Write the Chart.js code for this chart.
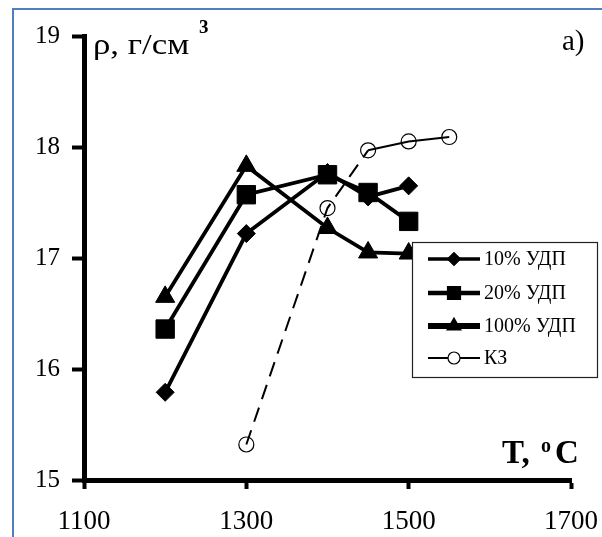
<!DOCTYPE html>
<html>
<head>
<meta charset="utf-8">
<script src="https://cdn.jsdelivr.net/npm/chart.js@4/dist/chart.umd.min.js"></script>
<style>
  html, body { margin: 0; padding: 0; background: #ffffff; }
  canvas { display: block; }
</style>
</head>
<body>
<canvas id="c" width="602" height="537"></canvas>
<script>
// ---- data ----
const temps = [1200, 1300, 1400, 1450, 1500];          // T, °C for the УДП series
const rho10 = [15.79, 17.22, 17.77, 17.55, 17.65];     // 10% УДП
const rho20 = [16.36, 17.57, 17.75, 17.59, 17.33];     // 20% УДП
const rho100 = [16.65, 17.83, 17.27, 17.05, 17.04];    // 100% УДП
const tempsKZ = [1300, 1400, 1450, 1500, 1550];        // T, °C for КЗ
const rhoKZ = [15.32, 17.45, 17.97, 18.05, 18.09];     // КЗ
const xTicks = [1100, 1300, 1500, 1700];
const yTicks = [15, 16, 17, 18, 19];
const seriesLabels = ['10% УДП', '20% УДП', '100% УДП', 'КЗ'];

const SERIF = '"Liberation Serif", "DejaVu Serif", serif';

function pts(xs, ys) { return xs.map((x, i) => ({ x: x, y: ys[i] })); }

function drawMarker(ctx, style, r, x, y, fill) {
  ctx.save();
  ctx.beginPath();
  if (style === 'rectRot') {
    ctx.moveTo(x - r, y); ctx.lineTo(x, y - r); ctx.lineTo(x + r, y); ctx.lineTo(x, y + r); ctx.closePath();
  } else if (style === 'rect') {
    ctx.rect(x - r, y - r, 2 * r, 2 * r);
  } else if (style === 'triangle') {
    ctx.moveTo(x, y - r);
    ctx.lineTo(x + r * 0.866, y + r * 0.5);
    ctx.lineTo(x - r * 0.866, y + r * 0.5);
    ctx.closePath();
  } else {
    ctx.arc(x, y, r, 0, Math.PI * 2);
  }
  ctx.fillStyle = fill;
  ctx.fill();
  ctx.lineWidth = 1.2;
  ctx.strokeStyle = '#000';
  ctx.stroke();
  ctx.restore();
}

const decorPlugin = {
  id: 'decor',
  beforeDraw(chart) {
    const ctx = chart.ctx;
    ctx.save();
    ctx.fillStyle = '#fff';
    ctx.fillRect(0, 0, chart.width, chart.height);
    ctx.strokeStyle = '#4f7fbd';
    ctx.lineWidth = 2;
    ctx.beginPath();
    ctx.moveTo(13, 537); ctx.lineTo(13, 9); ctx.lineTo(602, 9);
    ctx.stroke();
    ctx.restore();
  },
  afterDraw(chart) {
    const ctx = chart.ctx;
    ctx.save();
    ctx.fillStyle = '#000';
    ctx.textBaseline = 'alphabetic';
    ctx.textAlign = 'left';
    // y-axis title (glyphs in the reference are horizontally wider)
    ctx.save();
    ctx.translate(93, 54);
    ctx.scale(1.2, 1);
    ctx.font = '29px ' + SERIF;
    ctx.fillText('ρ, г/см', 0, 0);
    ctx.restore();
    ctx.font = 'bold 19px ' + SERIF;
    ctx.fillText('3', 199, 33);
    // panel label
    ctx.font = '29px ' + SERIF;
    ctx.fillText('a)', 562, 50);
    // x-axis title
    ctx.font = 'bold 33px ' + SERIF;
    ctx.fillText('T,', 502, 463);
    ctx.font = 'bold 20px ' + SERIF;
    ctx.fillText('o', 541, 452);
    ctx.font = 'bold 33px ' + SERIF;
    ctx.fillText('C', 555, 463);

    // legend
    const L = 412, T = 242, R = 597, B = 377;
    ctx.fillStyle = '#fff';
    ctx.fillRect(L, T, R - L, B - T);
    ctx.strokeStyle = '#222';
    ctx.lineWidth = 1.2;
    ctx.strokeRect(L + 0.5, T + 0.5, R - L, B - T);
    const rows = [259, 293, 326, 358];
    const legendW = [3.5, 4.5, 6, 2];
    const mk = [['rectRot', 6.5, '#000'], ['rect', 6.5, '#000'], ['triangle', 8, '#000'], ['circle', 6, '#fff']];
    chart.data.datasets.forEach((ds, i) => {
      const y = rows[i];
      ctx.strokeStyle = '#000';
      ctx.lineWidth = legendW[i];
      ctx.setLineDash([]);
      ctx.beginPath();
      ctx.moveTo(428, y); ctx.lineTo(480, y);
      ctx.stroke();
      drawMarker(ctx, mk[i][0], mk[i][1], 454, y, mk[i][2]);
      ctx.fillStyle = '#000';
      ctx.font = '20px ' + SERIF;
      ctx.textBaseline = 'middle';
      ctx.textAlign = 'left';
      ctx.fillText(ds.label, 484, y + 1);
    });
    ctx.restore();
  }
};

new Chart(document.getElementById('c'), {
  type: 'scatter',
  data: {
    datasets: [
      {
        label: seriesLabels[0], data: pts(temps, rho10), showLine: true,
        borderColor: '#000', borderWidth: 3.8, pointStyle: 'rectRot', pointRadius: 9,
        pointBackgroundColor: '#000', pointBorderColor: '#000', pointBorderWidth: 1
      },
      {
        label: seriesLabels[1], data: pts(temps, rho20), showLine: true,
        borderColor: '#000', borderWidth: 3.8, pointStyle: 'rect', pointRadius: 13,
        pointBackgroundColor: '#000', pointBorderColor: '#000', pointBorderWidth: 1
      },
      {
        label: seriesLabels[2], data: pts(temps, rho100), showLine: true,
        borderColor: '#000', borderWidth: 3.8, pointStyle: 'triangle', pointRadius: 11,
        pointBackgroundColor: '#000', pointBorderColor: '#000', pointBorderWidth: 1
      },
      {
        label: seriesLabels[3], data: pts(tempsKZ, rhoKZ), showLine: true,
        borderColor: '#000', borderWidth: 2, pointStyle: 'circle', pointRadius: 7.5,
        pointBackgroundColor: 'rgba(255,255,255,0)', pointBorderColor: '#000', pointBorderWidth: 1.2,
        segment: { borderDash: c => (c.p0.parsed.x < 1450 ? [15, 9] : []) }
      }
    ]
  },
  options: {
    responsive: false,
    devicePixelRatio: 1,
    animation: false,
    layout: { padding: { left: 0, top: 36, right: 31, bottom: 0 } },
    plugins: { legend: { display: false }, tooltip: { enabled: false } },
    scales: {
      x: {
        type: 'linear', min: 1100, max: 1700,
        afterFit: s => { s.height = 57; s.paddingLeft = 0; s.paddingRight = 0; },
        afterBuildTicks: s => { s.ticks = xTicks.map(v => ({ value: v })); },
        grid: { drawOnChartArea: false, drawTicks: true, tickLength: 9, tickWidth: 4, tickColor: '#000' },
        border: { display: true, width: 5, color: '#000' },
        ticks: { color: '#000', font: { family: SERIF, size: 27 }, padding: 17, maxRotation: 0,
                 callback: v => String(v) }
      },
      y: {
        type: 'linear', min: 15, max: 19,
        afterFit: s => { s.width = 84; s.paddingTop = 0; s.paddingBottom = 0; },
        afterBuildTicks: s => { s.ticks = yTicks.map(v => ({ value: v })); },
        grid: { drawOnChartArea: false, drawTicks: true, tickLength: 12, tickWidth: 4, tickColor: '#000' },
        border: { display: true, width: 5, color: '#000' },
        ticks: { color: '#000', font: { family: SERIF, size: 25 }, padding: 12,
                 callback: v => String(v) }
      }
    }
  },
  plugins: [decorPlugin]
});
</script>
</body>
</html>
